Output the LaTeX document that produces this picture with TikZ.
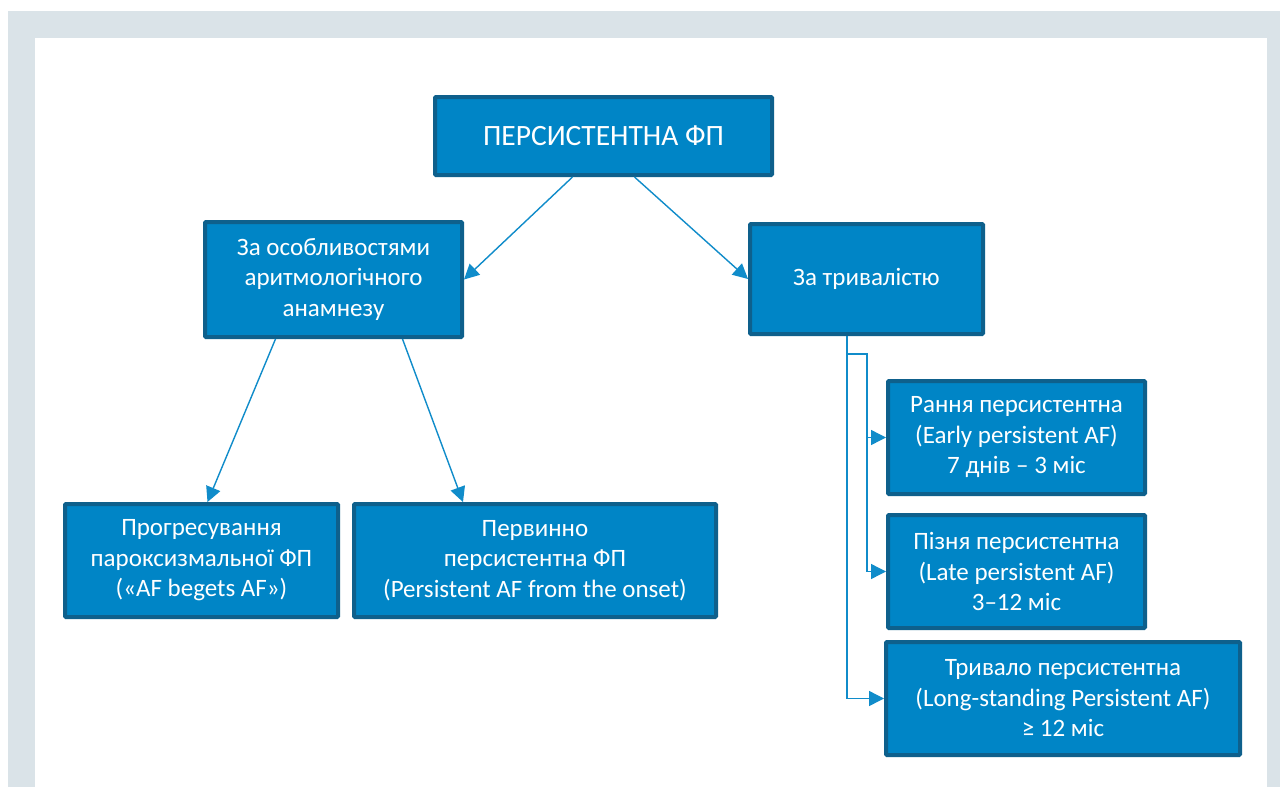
\documentclass[tikz,border=0pt]{standalone}
\usepackage{fontspec}
\setmainfont{Carlito}
\usepackage{xcolor}
\usetikzlibrary{arrows.meta}

\definecolor{boxblue}{RGB}{0,133,198}
\definecolor{boxedge}{RGB}{14,96,140}
\definecolor{linkblue}{RGB}{16,140,202}
\definecolor{panelgray}{RGB}{218,227,232}

\begin{document}
\begin{tikzpicture}[x=1pt, y=-1pt,
    fpbox/.style={draw=boxedge, line width=4pt, fill=boxblue, text=white,
        align=center, inner sep=0pt, rounded corners=1pt,
        font=\fontsize{25}{30.5}\selectfont},
    link/.style={draw=linkblue, line width=1.4pt,
        -{Triangle[length=15pt,width=15pt]}}]
    % background and white panel
    \useasboundingbox (0,0) rectangle (1280,787);
    \fill[panelgray] (8,11) rectangle (1280,787);
    \fill[white] (35,38) rectangle (1267,787);

    % boxes
    \node[fpbox, minimum width=337, minimum height=78,
        font=\fontsize{29.5}{32}\selectfont] (top) at (603.5,136) {ПЕРСИСТЕНТНА ФП};
    \node[fpbox, minimum width=257, minimum height=115] (anamnez) at (333.5,279.5)
        {За особливостями\\аритмологічного\\анамнезу};
    \node[fpbox, minimum width=233, minimum height=110] (duration) at (866.5,279)
        {За тривалістю};
    \node[fpbox, minimum width=273, minimum height=113] (progress) at (201.5,560.5)
        {Прогресування\\пароксизмальної ФП\\(«AF begets AF»)};
    \node[fpbox, minimum width=362, minimum height=113] (primary) at (535,560.5)
        {Первинно\\персистентна ФП\\(Persistent AF from the onset)};
    \node[fpbox, minimum width=257, minimum height=113] (early) at (1016.5,437.5)
        {Рання персистентна\\(Early persistent AF)\\7 днів – 3 міс};
    \node[fpbox, minimum width=257, minimum height=113] (late) at (1016.5,571.5)
        {Пізня персистентна\\(Late persistent AF)\\3–12 міс};
    \node[fpbox, minimum width=354, minimum height=113] (long) at (1063,698.5)
        {Тривало персистентна\\(Long-standing Persistent AF)\\≥ 12 міс};

    % connectors
    \draw[link] ([xshift=-31]top.south) -- (anamnez.east);
    \draw[link] ([xshift=31]top.south) -- (duration.west);
    \draw[link] ([xshift=-58]anamnez.south) -- ([xshift=6]progress.north);
    \draw[link] ([xshift=69]anamnez.south) -- ([xshift=-72]primary.north);

    \coordinate (bend) at (847,354);
    \coordinate (split) at (867,354);
    \draw[link] ([xshift=-19.5]duration.south) |- (long.west);
    \draw[link] (bend) -- (split) |- (late.west);
    \draw[link] (split) |- (early.west);
\end{tikzpicture}
\end{document}
